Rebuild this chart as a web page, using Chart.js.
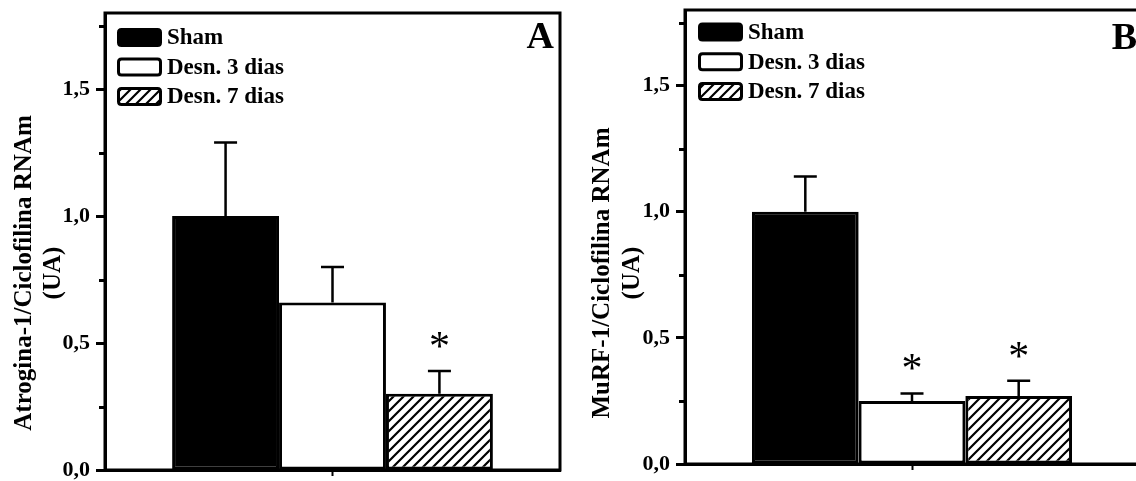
<!DOCTYPE html>
<html>
<head>
<meta charset="utf-8">
<script src="https://cdn.jsdelivr.net/npm/chart.js@4.4.1/dist/chart.umd.min.js"></script>
<style>
  html, body { margin: 0; padding: 0; background: #fff; overflow: hidden; width: 1136px; height: 481px; }
  #wrapA { position: absolute; left: 0; top: 0; width: 568px; height: 481px; }
  #wrapB { position: absolute; left: 568px; top: 0; width: 580px; height: 481px; }
</style>
</head>
<body>
<div id="wrapA"><canvas id="chartA" width="568" height="481"></canvas></div>
<div id="wrapB"><canvas id="chartB" width="580" height="481"></canvas></div>
<script>
// Groups shown in both panels
const groups = ['Sham', 'Desn. 3 dias', 'Desn. 7 dias'];

// Panel A: Atrogina-1 / Ciclofilina mRNA (mean, SEM, significance)
const atroginaMean = [1.00, 0.66, 0.30];
const atroginaSem  = [0.29, 0.14, 0.09];
const atroginaSig  = [false, false, true];

// Panel B: MuRF-1 / Ciclofilina mRNA (mean, SEM, significance)
const murfMean = [1.00, 0.25, 0.27];
const murfSem  = [0.14, 0.03, 0.06];
const murfSig  = [false, true, true];

// Y axis ticks
const yTickValues = [0, 0.5, 1.0, 1.5];
const yTickLabels = ['0,0', '0,5', '1,0', '1,5'];
const yMinorTicks = [0.25, 0.75, 1.25, 1.75];

// Axis titles and panel letters
const titleA = ['Atrogina-1/Ciclofilina RNAm', '(UA)'];
const titleB = ['MuRF-1/Ciclofilina RNAm', '(UA)'];
const letterA = 'A';
const letterB = 'B';

const SERIF = '"Liberation Serif", "Times New Roman", serif';

// Diagonal hatch fill for the 7-day group
function makeHatch() {
  const c = document.createElement('canvas');
  c.width = 10; c.height = 10;
  const g = c.getContext('2d');
  g.fillStyle = '#fff';
  g.fillRect(0, 0, 10, 10);
  g.strokeStyle = '#000';
  g.lineWidth = 2.2;
  g.beginPath();
  g.moveTo(-1, 11); g.lineTo(11, -1);
  g.moveTo(-6, 6); g.lineTo(6, -6);
  g.moveTo(4, 16); g.lineTo(16, 4);
  g.stroke();
  return g.createPattern(c, 'repeat');
}
const fills = ['#000', '#fff', makeHatch()];

// Frame, minor ticks, error bars, significance marks, legend, titles and panel letter
const decor = {
  id: 'panelDecor',
  afterDatasetsDraw(chart, args, o) {
    const ctx = chart.ctx, y = chart.scales.y;
    ctx.save();
    ctx.strokeStyle = '#000';
    ctx.lineWidth = 2.5;
    chart.data.datasets.forEach((ds, i) => {
      const bar = chart.getDatasetMeta(i).data[0];
      const top = y.getPixelForValue(ds.data[0] + o.sem[i]);
      const x = bar.x;
      ctx.beginPath();
      ctx.moveTo(x, bar.y);
      ctx.lineTo(x, top);
      ctx.moveTo(x - 11.5, top);
      ctx.lineTo(x + 11.5, top);
      ctx.stroke();
      if (o.sig[i]) {
        ctx.fillStyle = '#000';
        ctx.font = '42px ' + SERIF;
        ctx.textAlign = 'center';
        ctx.textBaseline = 'alphabetic';
        ctx.fillText('*', x, top - 11);
      }
    });
    ctx.restore();
  },
  afterDraw(chart, args, o) {
    const ctx = chart.ctx, a = chart.chartArea, y = chart.scales.y;
    ctx.save();
    // box around the plot
    ctx.strokeStyle = '#000';
    ctx.lineWidth = 3;
    ctx.strokeRect(a.left, a.top, a.right - a.left, a.bottom - a.top);
    // minor ticks on the value axis
    ctx.beginPath();
    yMinorTicks.forEach(v => {
      const py = Math.round(y.getPixelForValue(v)) + 0.5;
      ctx.moveTo(a.left - 6, py);
      ctx.lineTo(a.left, py);
    });
    ctx.stroke();
    // legend inside the plot
    const L = o.legend;
    chart.data.datasets.forEach((ds, i) => {
      const cy = a.top + L.y0 + i * L.dy;
      const bw = 45, bh = 19, r = 3;
      const bx = a.left + L.x + 1.5, by = cy - bh / 2 + 1.5, w = bw - 3, h = bh - 3;
      ctx.beginPath();
      ctx.moveTo(bx + r, by);
      ctx.lineTo(bx + w - r, by);
      ctx.quadraticCurveTo(bx + w, by, bx + w, by + r);
      ctx.lineTo(bx + w, by + h - r);
      ctx.quadraticCurveTo(bx + w, by + h, bx + w - r, by + h);
      ctx.lineTo(bx + r, by + h);
      ctx.quadraticCurveTo(bx, by + h, bx, by + h - r);
      ctx.lineTo(bx, by + r);
      ctx.quadraticCurveTo(bx, by, bx + r, by);
      ctx.closePath();
      ctx.fillStyle = ds.backgroundColor;
      ctx.fill();
      ctx.lineWidth = 3;
      ctx.stroke();
      ctx.fillStyle = '#000';
      ctx.font = 'bold 23px ' + SERIF;
      ctx.textAlign = 'left';
      ctx.textBaseline = 'middle';
      ctx.fillText(ds.label, a.left + L.tx, cy + 1);
    });
    // rotated value-axis title
    ctx.fillStyle = '#000';
    ctx.font = 'bold 25px ' + SERIF;
    ctx.textAlign = 'center';
    ctx.textBaseline = 'middle';
    o.title.forEach((line, j) => {
      ctx.save();
      ctx.translate(o.titleX[j], o.titleY);
      ctx.rotate(-Math.PI / 2);
      ctx.fillText(line, 0, 0);
      ctx.restore();
    });
    // panel letter
    ctx.font = 'bold 38px ' + SERIF;
    ctx.textAlign = 'right';
    ctx.textBaseline = 'alphabetic';
    ctx.fillText(o.letter.text, a.right + o.letter.dx, a.top + o.letter.dy);
    ctx.restore();
  }
};

function makeChart(id, o) {
  return new Chart(document.getElementById(id), {
    type: 'bar',
    data: {
      labels: [''],
      datasets: groups.map((g, i) => ({
        label: g,
        data: [o.mean[i]],
        backgroundColor: fills[i],
        borderColor: '#000',
        borderWidth: 3,
        borderSkipped: false,
        categoryPercentage: 0.705,
        barPercentage: 1
      }))
    },
    options: {
      responsive: false,
      animation: false,
      events: [],
      layout: { padding: { top: o.padTop, right: o.padRight, bottom: 0, left: 0 } },
      plugins: {
        legend: { display: false },
        tooltip: { enabled: false },
        panelDecor: {
          sem: o.sem, sig: o.sig, legend: o.legend,
          title: o.title, titleX: o.titleX, titleY: o.titleY, letter: o.letter
        }
      },
      scales: {
        x: {
          ticks: { display: false },
          grid: { display: true, offset: false, drawOnChartArea: false, drawTicks: true,
                  tickLength: 6, tickWidth: 2, tickColor: '#000' },
          border: { display: true, color: '#000', width: 3 },
          afterFit(s) { s.height = o.xh; s.paddingLeft = 0; s.paddingRight = 0; }
        },
        y: {
          min: 0, max: 1.8,
          afterBuildTicks(s) { s.ticks = yTickValues.map(v => ({ value: v })); },
          ticks: {
            callback: v => yTickLabels[yTickValues.indexOf(v)],
            color: '#000',
            padding: 6,
            font: { family: SERIF, weight: 'bold', size: 22, lineHeight: 1 }
          },
          grid: { drawOnChartArea: false, drawTicks: true, tickLength: 9, tickWidth: 3, tickColor: '#000' },
          border: { display: true, color: '#000', width: 3 },
          afterFit(s) { s.width = o.yw; s.paddingTop = 0; s.paddingBottom = 0; }
        }
      }
    },
    plugins: [decor]
  });
}

makeChart('chartA', {
  mean: atroginaMean, sem: atroginaSem, sig: atroginaSig,
  padTop: 13, padRight: 8, yw: 105, xh: 11,
  title: titleA, titleX: [25, 54], titleY: 273,
  legend: { x: 12, tx: 62, y0: 24.5, dy: 29.5 },
  letter: { text: letterA, dx: -6, dy: 35 }
});

makeChart('chartB', {
  mean: murfMean, sem: murfSem, sig: murfSig,
  padTop: 10, padRight: 9, yw: 117, xh: 17,
  title: titleB, titleX: [35, 65], titleY: 273,
  legend: { x: 13, tx: 63, y0: 22, dy: 29.7 },
  letter: { text: letterB, dx: -2, dy: 39 }
});
</script>
</body>
</html>
